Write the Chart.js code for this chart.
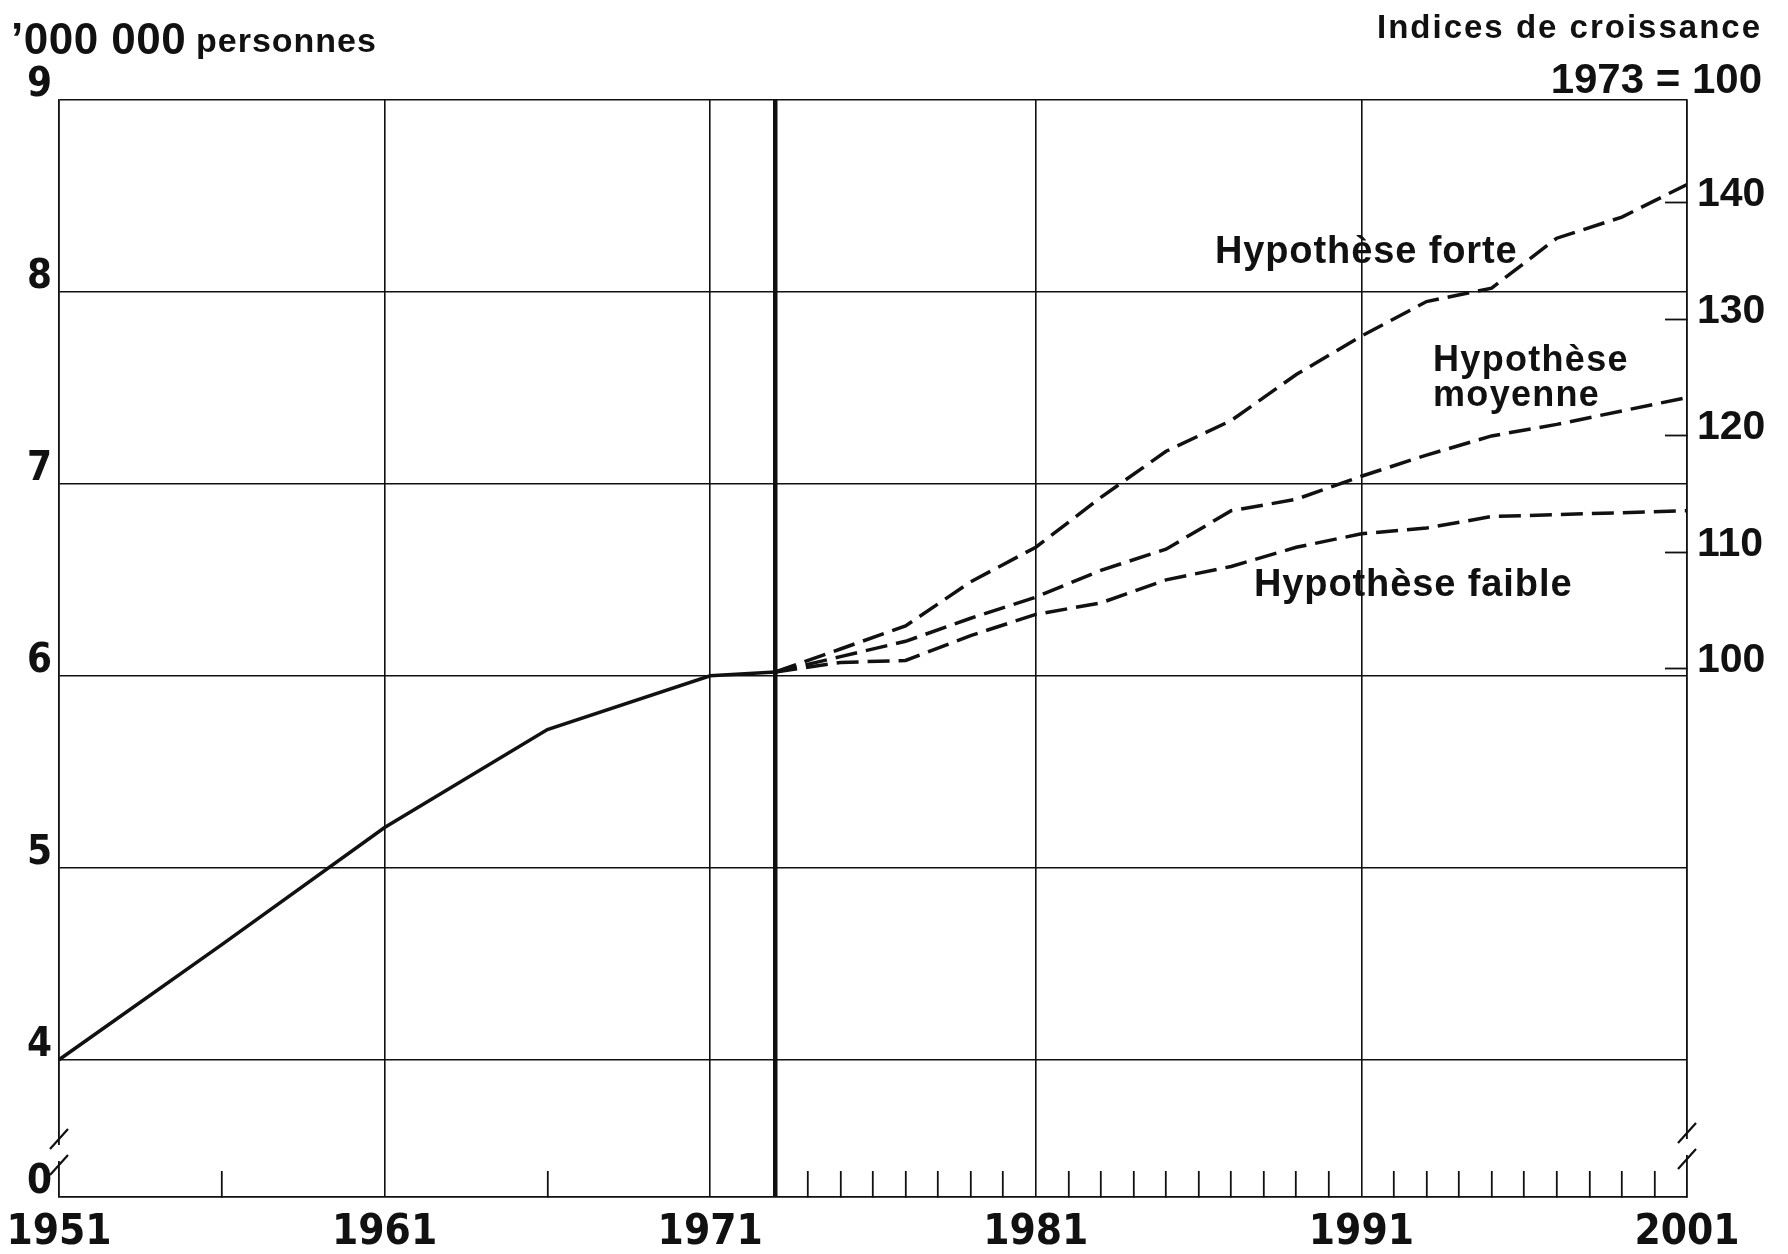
<!DOCTYPE html>
<html>
<head>
<meta charset="utf-8">
<title>Population 1951-2001</title>
<script src="https://cdn.jsdelivr.net/npm/chart.js@4.4.0/dist/chart.umd.min.js"></script>
<style>
  html, body { margin: 0; padding: 0; background: #fff; }
  #wrap { width: 1788px; height: 1254px; }
</style>
</head>
<body>
<div id="wrap"><canvas id="popChart" width="1788" height="1254"></canvas></div>
<script>
// Population, millions of persons (observed)
const histYears  = [1951, 1956, 1961, 1966, 1971, 1973];
const histValues = [4.00, 4.60, 5.21, 5.72, 6.00, 6.02];

// Projections 1973-2001, three hypotheses
const projYears     = [1973, 1975, 1977, 1979, 1981, 1983, 1985, 1987, 1989, 1991, 1993, 1995, 1997, 1999, 2001];
const forteValues   = [6.02, 6.14, 6.26, 6.49, 6.67, 6.93, 7.17, 7.33, 7.57, 7.77, 7.95, 8.02, 8.28, 8.39, 8.56];
const moyenneValues = [6.02, 6.10, 6.18, 6.30, 6.41, 6.55, 6.66, 6.86, 6.92, 7.04, 7.15, 7.25, 7.31, 7.38, 7.45];
const faibleValues  = [6.02, 6.07, 6.08, 6.21, 6.32, 6.38, 6.50, 6.57, 6.67, 6.74, 6.77, 6.83, 6.84, 6.85, 6.86];

// Axis ticks
const xLabelYears = [1951, 1961, 1971, 1981, 1991, 2001];
const xGridYears  = [1951, 1961, 1971, 1973, 1981, 1991, 2001];
const xMinorYears = [1956, 1966, 1974, 1975, 1976, 1977, 1978, 1979, 1980,
                     1982, 1983, 1984, 1985, 1986, 1987, 1988, 1989, 1990,
                     1992, 1993, 1994, 1995, 1996, 1997, 1998, 1999, 2000];
const yTicks = [4, 5, 6, 7, 8, 9];
const yBreakValue = 3.285;          // bottom of broken axis, labelled "0"
const indexTicks = [100, 110, 120, 130, 140];
const indexBase = 6.037;            // millions at index 100 (1973)
const indexStep = 0.0607;           // millions per index point

const INK = '#111';
const narrow = "'Liberation Sans Narrow', 'DejaVu Sans Condensed', 'Liberation Sans', sans-serif";
const wide = "'Liberation Sans', Arial, sans-serif";

const toPoints = (xs, ys) => xs.map((x, i) => ({ x: x, y: ys[i] }));
const allXTicks = xGridYears.concat(xMinorYears).sort((a, b) => a - b);

// Texts drawn on the canvas
const textPlugin = {
    id: 'textLabels',
    afterDraw(chart) {
        const ctx = chart.ctx;
        const xs = chart.scales.x;
        const ys = chart.scales.y;
        const area = chart.chartArea;

        ctx.save();
        ctx.fillStyle = INK;
        ctx.textBaseline = 'alphabetic';

        // series labels
        ctx.textAlign = 'left';
        ctx.font = 'bold 38px ' + wide;
        ctx.letterSpacing = '0.9px';
        ctx.fillText('Hypothèse forte', xs.getPixelForValue(1986.5), ys.getPixelForValue(8.151));
        ctx.fillText('Hypothèse faible', xs.getPixelForValue(1987.7), ys.getPixelForValue(6.418));
        ctx.font = 'bold 36px ' + wide;
        ctx.letterSpacing = '1.3px';
        ctx.fillText('Hypothèse', xs.getPixelForValue(1993.2), ys.getPixelForValue(7.587));
        ctx.fillText('moyenne', xs.getPixelForValue(1993.2), ys.getPixelForValue(7.405));

        // left heading
        ctx.font = 'bold 44px ' + wide;
        ctx.letterSpacing = '0.5px';
        ctx.fillText('\u2019000 000', 11, 54);
        ctx.font = 'bold 34px ' + wide;
        ctx.letterSpacing = '1px';
        ctx.fillText('personnes', 196, 52);

        // right heading
        ctx.textAlign = 'right';
        ctx.font = 'bold 33px ' + wide;
        ctx.letterSpacing = '2px';
        ctx.fillText('Indices de croissance', 1762, 38);
        ctx.font = 'bold 42px ' + wide;
        ctx.letterSpacing = '0px';
        ctx.fillText('1973 = 100', 1762, 93);

        // axis break marks
        const breaks = [[area.left, area.bottom - 44], [area.right, area.bottom - 50]];
        ctx.lineWidth = 2.2;
        ctx.strokeStyle = INK;
        breaks.forEach(([bx, by]) => {
            ctx.fillStyle = '#fff';
            ctx.fillRect(bx - 3, by - 8, 6, 16);
            ctx.beginPath();
            ctx.moveTo(bx - 9, by - 4);
            ctx.lineTo(bx + 9, by - 24);
            ctx.moveTo(bx - 9, by + 22);
            ctx.lineTo(bx + 9, by + 2);
            ctx.stroke();
        });
        ctx.restore();
    }
};

const lineStyle = {
    borderColor: INK,
    borderWidth: 3.5,
    pointRadius: 0,
    tension: 0,
    fill: false
};

new Chart(document.getElementById('popChart'), {
    type: 'line',
    data: {
        datasets: [
            Object.assign({ label: 'Population', data: toPoints(histYears, histValues) }, lineStyle),
            Object.assign({ label: 'Hypothèse forte', data: toPoints(projYears, forteValues), borderDash: [22, 9] }, lineStyle),
            Object.assign({ label: 'Hypothèse moyenne', data: toPoints(projYears, moyenneValues), borderDash: [22, 9] }, lineStyle),
            Object.assign({ label: 'Hypothèse faible', data: toPoints(projYears, faibleValues), borderDash: [22, 9] }, lineStyle)
        ]
    },
    options: {
        responsive: false,
        devicePixelRatio: 1,
        animation: false,
        layout: { padding: { top: 100, left: 0, right: 0, bottom: 0 } },
        plugins: {
            legend: { display: false },
            tooltip: { enabled: false }
        },
        scales: {
            x: {
                type: 'linear',
                position: 'bottom',
                min: 1951,
                max: 2001,
                afterBuildTicks: (scale) => { scale.ticks = allXTicks.map(v => ({ value: v })); },
                afterFit: (scale) => {
                    scale.height = 57;
                    scale.paddingLeft = 0;
                    scale.paddingRight = 0;
                },
                border: { display: true, color: INK, width: 1.6 },
                grid: {
                    color: (c) => xGridYears.includes(c.tick && c.tick.value) ? INK : 'rgba(0,0,0,0)',
                    lineWidth: (c) => (c.tick && c.tick.value === 1973) ? 4.5 : 1.6,
                    tickColor: (c) => xGridYears.includes(c.tick && c.tick.value) ? 'rgba(0,0,0,0)' : INK,
                    tickWidth: 1.8,
                    tickLength: -26,
                    drawTicks: true
                },
                ticks: {
                    autoSkip: false,
                    maxRotation: 0,
                    padding: 37,
                    color: INK,
                    font: { family: narrow, size: 42, weight: 'bold' },
                    callback: (v) => xLabelYears.includes(v) ? String(v) : ''
                }
            },
            y: {
                type: 'linear',
                position: 'left',
                min: yBreakValue,
                max: 9,
                afterBuildTicks: (scale) => { scale.ticks = [yBreakValue].concat(yTicks).map(v => ({ value: v })); },
                afterFit: (scale) => { scale.width = 59; },
                border: { display: true, color: INK, width: 1.6 },
                grid: { color: INK, lineWidth: 1.6, drawTicks: false },
                ticks: {
                    padding: 7,
                    labelOffset: -14,
                    color: INK,
                    font: { family: narrow, size: 40, weight: 'bold' },
                    callback: (v) => v === yBreakValue ? '0' : String(v)
                }
            },
            y2: {
                type: 'linear',
                position: 'right',
                min: 100 + (yBreakValue - indexBase) / indexStep,
                max: 100 + (9 - indexBase) / indexStep,
                afterBuildTicks: (scale) => { scale.ticks = indexTicks.map(v => ({ value: v })); },
                afterFit: (scale) => { scale.width = 101; },
                border: { display: true, color: INK, width: 1.6 },
                grid: {
                    drawOnChartArea: false,
                    drawTicks: true,
                    tickLength: -22,
                    tickColor: INK,
                    tickWidth: 1.8
                },
                ticks: {
                    padding: 32,
                    labelOffset: -8,
                    color: INK,
                    font: { family: wide, size: 41, weight: 'bold' },
                    callback: (v) => String(v)
                }
            }
        }
    },
    plugins: [textPlugin]
});
</script>
</body>
</html>
